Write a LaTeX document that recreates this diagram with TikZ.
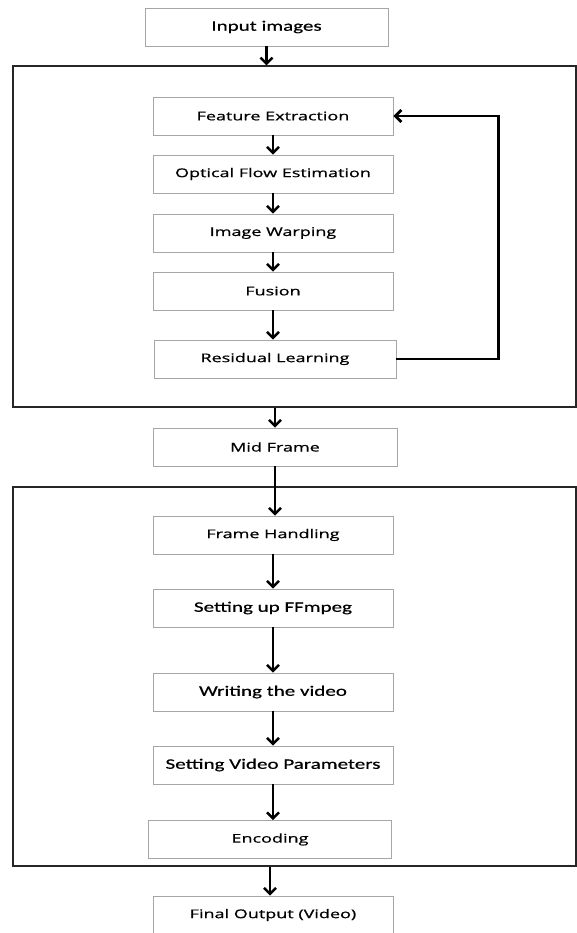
\documentclass[tikz,border=0pt]{standalone}
\usepackage{fontspec}
\setmainfont{Open Sans}[FakeStretch=1.5, FakeBold=0.8]
\newfontfamily\calfont{Carlito}[FakeStretch=1.45, FakeBold=0.6]
\usetikzlibrary{arrows.meta}

\tikzset{
    stage/.style={draw=gray!70, line width=0.6pt, minimum width=240, minimum height=38,
        inner sep=0pt, font=\fontsize{12}{14}\selectfont},
    calstage/.style={stage, font=\calfont\fontsize{14.5}{16}\selectfont},
    group/.style={draw=black!85, line width=1.1pt, inner sep=0pt},
    flow/.style={-{Straight Barb[length=6pt,width=12pt]}, line width=2.5pt},
    back/.style={-{Straight Barb[length=6pt,width=12pt]}, line width=2.8pt},
}

\begin{document}
\begin{tikzpicture}[x=1pt, y=-1pt]
        \useasboundingbox (0,0) rectangle (577,933);

        % outer groups
        \node[group, minimum width=563, minimum height=341] (grpA) at (294.5,236.5) {};
        \node[group, minimum width=563, minimum height=379] (grpB) at (294.5,676.5) {};

        \node[calstage, minimum width=243] (inp) at (266.5,27) {Input images};

        \node[stage] (fe) at (273,116) {Feature Extraction};
        \node[stage] (of) at (273,174) {Optical Flow Estimation};
        \node[stage] (iw) at (273,233) {Image Warping};
        \node[stage] (fu) at (273,291) {Fusion};
        \node[stage, minimum width=242] (rl) at (275,359) {Residual Learning};

        \node[stage, minimum width=244] (mid) at (275,447) {Mid Frame};

        \node[stage] (fh) at (273,535) {Frame Handling};
        \node[calstage] (ff) at (273,608) {Setting up FFmpeg};
        \node[calstage] (wv) at (273,692) {Writing the video};
        \node[calstage] (vp) at (273,765) {Setting Video Parameters};
        \node[stage, minimum width=243] (enc) at (270,839.5) {Encoding};

        \node[stage] (out) at (273,915) {Final Output (Video)};

        % arrows
        \draw[flow] (inp) -- (inp.south |- grpA.north);
        \draw[flow] (fe) -- (of);
        \draw[flow] (of) -- (iw);
        \draw[flow] (iw) -- (fu);
        \draw[flow] (fu.south) -- (fu.south |- rl.north);
        \draw[flow] (mid.north |- grpA.south) -- (mid);
        \draw[flow] (mid.south) -- (mid.south |- fh.north);
        \draw[flow] (fh) -- (ff);
        \draw[flow] (ff) -- (wv);
        \draw[flow] (wv) -- (vp);
        \draw[flow] (vp.south) -- (vp.south |- enc.north);
        \draw[flow] (enc.south |- grpB.south) -- (enc.south |- out.north);

        % feedback loop
        \draw[back] (rl.east) -- ++(102,0) |- (fe.east);
    \end{tikzpicture}
\end{document}
